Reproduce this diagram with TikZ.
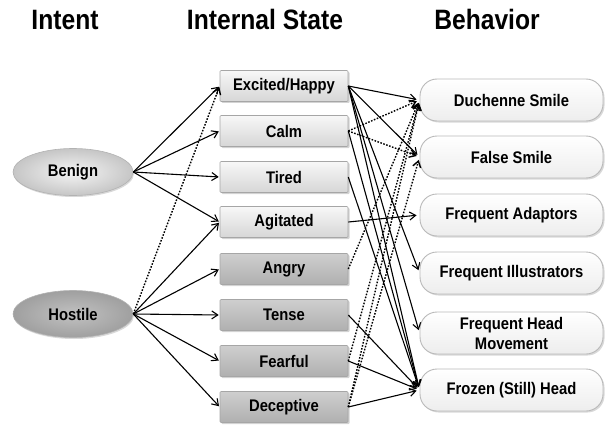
\documentclass[tikz,border=0pt]{standalone}
\usepackage{fontspec}
\setmainfont{Liberation Sans}[FakeStretch=0.88]
\usetikzlibrary{arrows.meta,shadows,shapes.geometric}
\tikzset{
  lbl/.style={font=\bfseries\fontsize{16.8}{20}\selectfont},
  ttl/.style={font=\bfseries\fontsize{28}{30}\selectfont, anchor=base},
  stl/.style={lbl, draw=gray!70, line width=0.6pt, rounded corners=1pt,
    minimum width=128pt, minimum height=31pt,
    drop shadow={opacity=0.35, shadow xshift=1.5pt, shadow yshift=-1.5pt}},
  lightbox/.style={stl, top color=gray!6, bottom color=gray!32},
  darkbox/.style={stl, top color=gray!38, bottom color=gray!62},
  beh/.style={lbl, draw=gray!55, line width=0.9pt, rounded corners=17pt,
    minimum width=183pt, minimum height=42pt, align=center,
    top color=white, bottom color=gray!14,
    drop shadow={opacity=0.3, shadow xshift=1.5pt, shadow yshift=-1.5pt}},
  intent/.style={lbl, ellipse, draw=gray!60, line width=0.6pt,
    minimum width=120pt, minimum height=47pt,
    drop shadow={opacity=0.3, shadow xshift=1pt, shadow yshift=-1.5pt}},
  arr/.style={-{Straight Barb[length=6pt,width=8pt]}, line width=1.1pt},
  dar/.style={arr, dash pattern=on 1.6pt off 1.5pt, line width=1.4pt},
}
\begin{document}
\begin{tikzpicture}[x=1pt,y=-1pt]
\useasboundingbox (0,0) rectangle (615,425);
% titles
\node[ttl] (t1) at (65,30) {Intent};
\node[ttl] (t2) at (265,30) {Internal State};
\node[ttl] (t3) at (487,30) {Behavior};
% intent
\node[intent, inner color=gray!8, outer color=gray!45] (ben) at (73,172) {Benign};
\node[intent, inner color=gray!48, outer color=gray!75] (hos) at (73,314) {Hostile};
% internal states
\node[lightbox] (ex) at (284,86) {Excited/Happy};
\node[lightbox] (ca) at (284,131) {Calm};
\node[lightbox] (ti) at (284,177) {Tired};
\node[lightbox] (ag) at (284,222) {Agitated};
\node[darkbox] (an) at (284,269) {Angry};
\node[darkbox] (te) at (284,315) {Tense};
\node[darkbox] (fe) at (284,361) {Fearful};
\node[darkbox] (de) at (284,407) {Deceptive};
% behaviors
\node[beh] (du) at (511.5,100) {Duchenne Smile};
\node[beh] (fs) at (511.5,157) {False Smile};
\node[beh] (fa) at (511.5,215) {Frequent Adaptors};
\node[beh] (fi) at (511.5,273) {Frequent Illustrators};
\node[beh, inner sep=1pt] (fh) at (511.5,333) {Frequent Head\\Movement};
\node[beh] (fz) at (511.5,390) {Frozen (Still) Head};
% intent -> state
\foreach \t in {ex,ca,ti,ag} \draw[arr,shorten >=1pt] (ben.east) -- (\t.west);
\foreach \t in {ag,an,te,fe,de} \draw[arr,shorten >=1pt] (hos.east) -- (\t.west);
\draw[dar,shorten >=1pt] (hos.east) -- (ex.west);
% state -> behavior
\begin{scope}[shorten >=3pt]
\draw[arr] (ex.east) -- (du.west);
\draw[arr] (ex.east) -- (fs.west);
\draw[arr] (ex.east) -- (fi.west);
\draw[arr] (ex.east) -- (fh.west);
\draw[arr] (ex.east) -- (fz.west);
\draw[dar] (ca.east) -- (du.west);
\draw[dar] (ca.east) -- (fs.west);
\draw[arr] (ca.east) -- (fz.west);
\draw[arr] (ti.east) -- (fz.west);
\draw[arr] (ag.east) -- (fa.west);
\draw[dar] (an.east) -- (du.west);
\draw[arr] (te.east) -- (fz.west);
\draw[arr] (fe.east) -- (fz.west);
\draw[arr] (de.east) -- (fz.west);
\draw[dar] (fe.east) -- (du.west);
\draw[dar] (de.east) -- (du.west);
\draw[dar] (de.east) -- (fs.west);
\end{scope}
\end{tikzpicture}
\end{document}
